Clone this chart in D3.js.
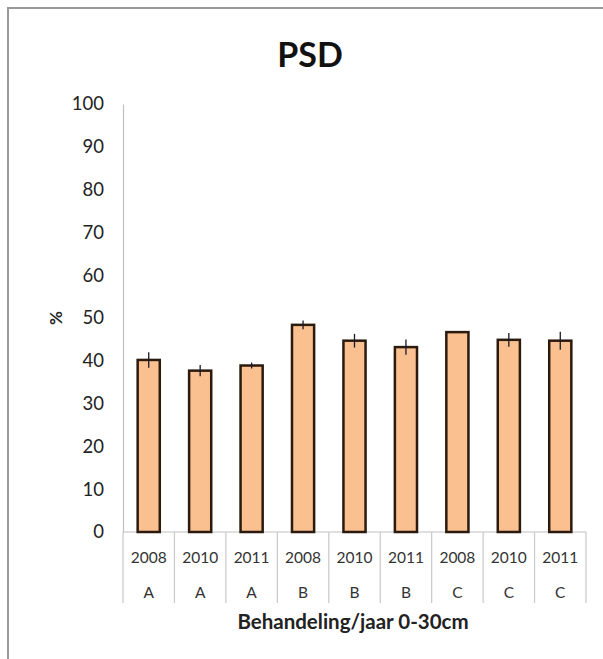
<!DOCTYPE html>
<html><head><meta charset="utf-8">
<script src="https://cdn.jsdelivr.net/npm/d3@7"></script>
<style>body{margin:0;background:#fff}svg{display:block}</style>
</head><body>
<script>
const years = ["2008","2010","2011","2008","2010","2011","2008","2010","2011"];
const groups = ["A","A","A","B","B","B","C","C","C"];
const values = [40.2, 37.7, 38.9, 48.4, 44.7, 43.2, 46.7, 44.9, 44.7];
const errors = [1.8, 1.3, 0.7, 1.0, 1.6, 1.8, 0.0, 1.6, 2.1];
const yTicks = [0,10,20,30,40,50,60,70,80,90,100];

const W = 603, H = 659;
const svg = d3.select("body").append("svg").attr("width", W).attr("height", H);
const font = "Lato, 'Open Sans', sans-serif";

// frame (top & left only, extends off page)
svg.append("path").attr("d", `M8,${H} L8,8 L${W},8`).attr("fill","none").attr("stroke","#999").attr("stroke-width",2);

const x0 = 123, x1 = 586, yTop = 104, yBot = 532;
const idx = d3.range(values.length);
const x = d3.scaleBand().domain(idx).range([x0, x1]).paddingInner(0.57).paddingOuter(0.285);
const xb = d3.scaleBand().domain(idx).range([x0, x1]);
const y = d3.scaleLinear().domain([0, 100]).range([yBot, yTop]);

// title
svg.append("text").attr("x", 310).attr("y", 67).attr("text-anchor","middle")
  .attr("font-family", font).attr("font-weight","bold").attr("font-size", 34).attr("fill","#111").text("PSD");

// y axis
const ya = svg.append("g").attr("transform", `translate(${x0},0)`)
  .call(d3.axisLeft(y).tickValues(yTicks).tickSize(0).tickPadding(19));
ya.select(".domain").attr("stroke","#bfbfbf").attr("stroke-width",1.2);
ya.selectAll("text").attr("font-family", font).attr("font-size", 18.5).attr("fill","#222").attr("text-anchor","end");

// y label
svg.append("text").attr("transform", `translate(56,${y(50)}) rotate(-90)`).attr("text-anchor","middle")
  .attr("dy","0.35em")
  .attr("font-family", font).attr("font-weight","bold").attr("font-size", 17).attr("fill","#222").text("%");

// x baseline
svg.append("line").attr("x1", x0).attr("x2", x1).attr("y1", yBot).attr("y2", yBot)
  .attr("stroke","#bfbfbf").attr("stroke-width",1.2);

// category table lines
const seps = idx.map(i => xb(i)).concat([x1]);
svg.append("g").selectAll("line").data(seps).join("line")
  .attr("x1", d => d).attr("x2", d => d).attr("y1", yBot).attr("y2", 603)
  .attr("stroke","#c8c8c8").attr("stroke-width",1.2);

svg.append("g").selectAll("text").data(years).join("text")
  .attr("x", (d,i) => xb(i) + xb.bandwidth()/2).attr("y", 563).attr("text-anchor","middle")
  .attr("font-family", font).attr("font-size", 15.5).attr("fill","#333").text(d => d);
svg.append("g").selectAll("text").data(groups).join("text")
  .attr("x", (d,i) => xb(i) + xb.bandwidth()/2).attr("y", 598).attr("text-anchor","middle")
  .attr("font-family", font).attr("font-size", 15.5).attr("fill","#333").text(d => d);

// bars
svg.append("g").selectAll("rect").data(values).join("rect")
  .attr("x", (d,i) => x(i)).attr("y", d => y(d))
  .attr("width", x.bandwidth()).attr("height", d => yBot - y(d))
  .attr("fill","#fac090").attr("stroke","#2b1a0e").attr("stroke-width",2.5);

// error bars
svg.append("g").selectAll("line").data(values).join("line")
  .attr("x1", (d,i) => x(i) + x.bandwidth()/2).attr("x2", (d,i) => x(i) + x.bandwidth()/2)
  .attr("y1", (d,i) => y(d + errors[i])).attr("y2", (d,i) => y(d - errors[i]))
  .attr("stroke","#1a1a2a").attr("stroke-width",1.3);

// x title
svg.append("text").attr("x", 353).attr("y", 629).attr("text-anchor","middle")
  .attr("font-family", font).attr("font-weight","bold").attr("font-size", 20.5).attr("fill","#222")
  .text("Behandeling/jaar 0-30cm");
</script>
</body></html>
